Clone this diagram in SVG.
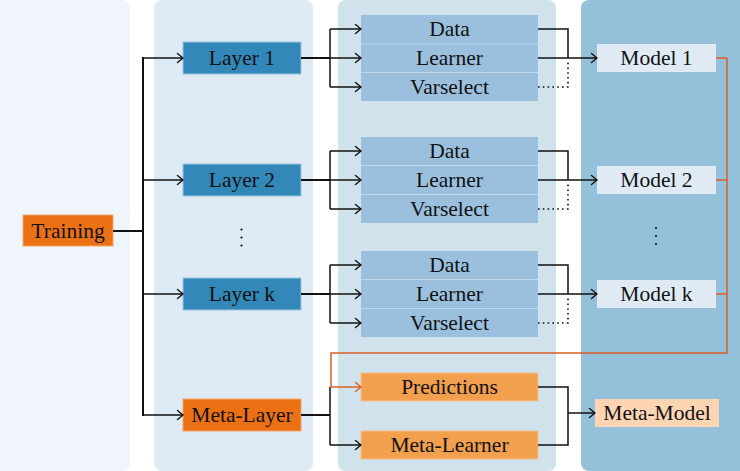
<svg xmlns="http://www.w3.org/2000/svg" width="740" height="471" viewBox="0 0 740 471">
<style>
text{fill:#111;text-anchor:middle}
.c{fill:none;stroke:#111;stroke-width:1.5}
.t{stroke-width:2}
.d{stroke-dasharray:1.6 3.2;stroke-width:1.6}
.o{fill:none;stroke:#d95f26;stroke-width:1.5}
.layer{fill:#3288b9;stroke:#9cc3dd;stroke-width:1}
.org{fill:#ec7014;stroke:#f4a56a;stroke-width:1}
.blk{fill:#9ac0dd}
.sep{stroke:#c0d8ea;stroke-width:1}
.mod{fill:#dfeaf4}
.pred{fill:#f29f4e;stroke:#f7c08a;stroke-width:1}
.mm{fill:#fdd5b2}
</style>
<defs>
<marker id="a" markerUnits="userSpaceOnUse" viewBox="-7 -6 8 12" refX="0" refY="0" markerWidth="8" markerHeight="12" orient="auto">
<path d="M-5.5,-4.5 Q-1.5,-1.2 0,0 Q-1.5,1.2 -5.5,4.5" fill="none" stroke="#111" stroke-width="1.4" stroke-linecap="round"/>
</marker>
<marker id="ao" markerUnits="userSpaceOnUse" viewBox="-7 -6 8 12" refX="0" refY="0" markerWidth="8" markerHeight="12" orient="auto">
<path d="M-5.5,-4.5 Q-1.5,-1.2 0,0 Q-1.5,1.2 -5.5,4.5" fill="none" stroke="#d95f26" stroke-width="1.4" stroke-linecap="round"/>
</marker>
</defs>
<g id="backgrounds">
<rect x="-10" y="0" width="140" height="471" rx="8" fill="#eff5fa"/>
<rect x="154" y="0" width="159" height="471" rx="8" fill="#deebf4"/>
<rect x="338" y="0" width="218" height="471" rx="8" fill="#d0e2ec"/>
<rect x="581" y="0" width="169" height="471" rx="8" fill="#94c0d9"/>
</g>
<g id="nodes">
<g id="training"><rect class="org" x="23" y="215" width="90" height="31"/><text x="68" y="238" font-family="Liberation Serif" font-size="21.5" style="font-family:'Liberation Serif';font-size:21.5px">Training</text></g>
<g id="layer1"><rect class="layer" x="183" y="42" width="118" height="32"/><text x="242" y="65" font-family="Liberation Serif" font-size="21.5" style="font-family:'Liberation Serif';font-size:21.5px">Layer 1</text></g>
<g id="layer2"><rect class="layer" x="183" y="164" width="118" height="32"/><text x="242" y="187" font-family="Liberation Serif" font-size="21.5" style="font-family:'Liberation Serif';font-size:21.5px">Layer 2</text></g>
<g id="layerk"><rect class="layer" x="183" y="278" width="118" height="32"/><text x="242" y="301" font-family="Liberation Serif" font-size="21.5" style="font-family:'Liberation Serif';font-size:21.5px">Layer k</text></g>
<g id="metalayer"><rect class="org" x="183" y="399" width="118" height="32"/><text x="242" y="422" font-family="Liberation Serif" font-size="21.5" style="font-family:'Liberation Serif';font-size:21.5px">Meta-Layer</text></g>
<g id="dots2"><circle cx="241.5" cy="229.5" r="1.1" fill="#111"/><circle cx="241.5" cy="237.5" r="1.1" fill="#111"/><circle cx="241.5" cy="245.5" r="1.1" fill="#111"/></g>
<g id="group1">
<rect class="blk" x="361" y="15" width="177" height="86"/>
<line class="sep" x1="361" y1="44" x2="538" y2="44"/><line class="sep" x1="361" y1="72.5" x2="538" y2="72.5"/>
<text x="449.5" y="36" font-family="Liberation Serif" font-size="21.5" style="font-family:'Liberation Serif';font-size:21.5px">Data</text>
<text x="449.5" y="65" font-family="Liberation Serif" font-size="21.5" style="font-family:'Liberation Serif';font-size:21.5px">Learner</text>
<text x="449.5" y="94" font-family="Liberation Serif" font-size="21.5" style="font-family:'Liberation Serif';font-size:21.5px">Varselect</text>
</g>
<g id="group2">
<rect class="blk" x="361" y="137" width="177" height="86"/>
<line class="sep" x1="361" y1="165.5" x2="538" y2="165.5"/><line class="sep" x1="361" y1="194.5" x2="538" y2="194.5"/>
<text x="449.5" y="158" font-family="Liberation Serif" font-size="21.5" style="font-family:'Liberation Serif';font-size:21.5px">Data</text>
<text x="449.5" y="187" font-family="Liberation Serif" font-size="21.5" style="font-family:'Liberation Serif';font-size:21.5px">Learner</text>
<text x="449.5" y="216" font-family="Liberation Serif" font-size="21.5" style="font-family:'Liberation Serif';font-size:21.5px">Varselect</text>
</g>
<g id="groupk">
<rect class="blk" x="361" y="251" width="177" height="86"/>
<line class="sep" x1="361" y1="279.5" x2="538" y2="279.5"/><line class="sep" x1="361" y1="308.5" x2="538" y2="308.5"/>
<text x="449.5" y="272" font-family="Liberation Serif" font-size="21.5" style="font-family:'Liberation Serif';font-size:21.5px">Data</text>
<text x="449.5" y="301" font-family="Liberation Serif" font-size="21.5" style="font-family:'Liberation Serif';font-size:21.5px">Learner</text>
<text x="449.5" y="330" font-family="Liberation Serif" font-size="21.5" style="font-family:'Liberation Serif';font-size:21.5px">Varselect</text>
</g>
<g id="predictions"><rect class="pred" x="361" y="373" width="177" height="28"/><text x="449.5" y="394" font-family="Liberation Serif" font-size="21.5" style="font-family:'Liberation Serif';font-size:21.5px">Predictions</text></g>
<g id="metalearner"><rect class="pred" x="361" y="431" width="177" height="28"/><text x="449.5" y="452" font-family="Liberation Serif" font-size="21.5" style="font-family:'Liberation Serif';font-size:21.5px">Meta-Learner</text></g>
<g id="model1"><rect class="mod" x="597" y="44" width="119" height="28"/><text x="656.5" y="65" font-family="Liberation Serif" font-size="21.5" style="font-family:'Liberation Serif';font-size:21.5px">Model 1</text></g>
<g id="model2"><rect class="mod" x="597" y="166" width="119" height="28"/><text x="656.5" y="187" font-family="Liberation Serif" font-size="21.5" style="font-family:'Liberation Serif';font-size:21.5px">Model 2</text></g>
<g id="modelk"><rect class="mod" x="597" y="280" width="119" height="28"/><text x="656.5" y="301" font-family="Liberation Serif" font-size="21.5" style="font-family:'Liberation Serif';font-size:21.5px">Model k</text></g>
<g id="dots4"><circle cx="656" cy="228" r="1.1" fill="#111"/><circle cx="656" cy="236" r="1.1" fill="#111"/><circle cx="656" cy="244" r="1.1" fill="#111"/></g>
<g id="metamodel"><rect class="mm" x="595" y="399" width="124" height="28"/><text x="657" y="420" font-family="Liberation Serif" font-size="21.5" style="font-family:'Liberation Serif';font-size:21.5px">Meta-Model</text></g>
</g>
<g id="connectors">
<path class="c t" d="M113,231 H143 M143,57 V416"/>
<path class="c" d="M143,58 H183" marker-end="url(#a)"/>
<path class="c" d="M143,180 H183" marker-end="url(#a)"/>
<path class="c" d="M143,294 H183" marker-end="url(#a)"/>
<path class="c" d="M143,415 H183" marker-end="url(#a)"/>
<path class="c t" d="M301,58 H330"/><path class="c" d="M330,29 V87"/>
<path class="c" d="M330,29 H361" marker-end="url(#a)"/><path class="c" d="M330,58 H361" marker-end="url(#a)"/><path class="c" d="M330,87 H361" marker-end="url(#a)"/>
<path class="c t" d="M301,180 H330"/><path class="c" d="M330,151 V209"/>
<path class="c" d="M330,151 H361" marker-end="url(#a)"/><path class="c" d="M330,180 H361" marker-end="url(#a)"/><path class="c" d="M330,209 H361" marker-end="url(#a)"/>
<path class="c t" d="M301,294 H330"/><path class="c" d="M330,265 V323"/>
<path class="c" d="M330,265 H361" marker-end="url(#a)"/><path class="c" d="M330,294 H361" marker-end="url(#a)"/><path class="c" d="M330,323 H361" marker-end="url(#a)"/>
<path class="c t" d="M301,415 H330"/><path class="c" d="M330,387 V445"/>
<path class="c" d="M330,445 H361" marker-end="url(#a)"/>
<path class="c" d="M538,29 H568 V58"/><path class="c" d="M538,58 H597" marker-end="url(#a)"/><path class="c d" d="M538,87 H568 V62"/>
<path class="c" d="M538,151 H568 V180"/><path class="c" d="M538,180 H597" marker-end="url(#a)"/><path class="c d" d="M538,209 H568 V184"/>
<path class="c" d="M538,265 H568 V294"/><path class="c" d="M538,294 H597" marker-end="url(#a)"/><path class="c d" d="M538,323 H568 V298"/>
<path class="c" d="M538,387 H568 V445 H538"/><path class="c" d="M568,413 H595" marker-end="url(#a)"/>
<path class="o" d="M716,58 H727 M716,180 H727 M716,294 H727"/>
<path class="o" d="M727,58 V353 H331 V387 H361" marker-end="url(#ao)"/>
</g>
</svg>
